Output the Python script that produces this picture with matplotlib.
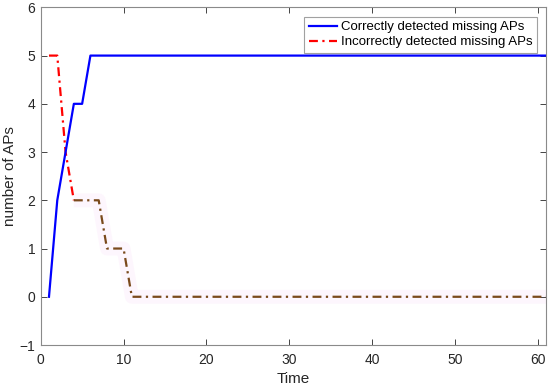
import matplotlib
matplotlib.use("Agg")
import matplotlib.pyplot as plt
import numpy as np

time = list(range(1, 62))
correct = [0, 2, 3, 4, 4] + [5] * 56
incorrect = [5, 5, 3, 2, 2, 2, 2, 1, 1, 1] + [0] * 51
x_ticks = [0, 10, 20, 30, 40, 50, 60]
y_ticks = [-1, 0, 1, 2, 3, 4, 5, 6]

plt.rcParams['font.family'] = ['Liberation Sans', 'DejaVu Sans']
fig = plt.figure(figsize=(5.5, 3.87), dpi=100)
ax = fig.add_axes([0.074, 0.1085, 0.919, 0.8725])

dash = (4, 2, 1, 2)
ax.plot(time, correct, color='#0000ff', lw=1.6, label='Correctly detected missing APs', zorder=4)
# red part of dash-dot curve (legend entry)
ax.plot(time[:4], incorrect[:4], color='#ff0000', lw=1.6, dashes=dash, zorder=3,
        label='Incorrectly detected missing APs')
# brownish appearance on later part of the dash-dot curve, with faint pink haze
ax.plot(time[3:], incorrect[3:], color='#fbe6fa', lw=10, alpha=0.35, zorder=1, solid_capstyle='butt')
ax.plot(time[3:], incorrect[3:], color='#7a4a1c', lw=1.6, dashes=dash, zorder=3)

ax.set_xlim(0, 61)
ax.set_ylim(-1, 6)
ax.set_xticks(x_ticks)
ax.set_yticks(y_ticks)
ax.tick_params(axis='x', pad=6)
ax.tick_params(axis='y', pad=4)
ax.tick_params(direction='in', top=True, right=True, labelsize=10, colors='#262626',
               length=4, width=0.6)
for s in ax.spines.values():
    s.set_color('#8a8a8a')
    s.set_linewidth(0.8)
ax.set_xlabel('Time', fontsize=11, color='#262626', labelpad=3)
ax.set_ylabel('number of APs', fontsize=11, color='#262626', labelpad=2)

leg = ax.legend(loc='upper right', fontsize=9.5, frameon=True, fancybox=False,
                borderaxespad=0.7, handlelength=2.1, handletextpad=0.3,
                borderpad=0.35, labelspacing=0.2)
leg.get_frame().set_edgecolor('#8a8a8a')
leg.get_frame().set_linewidth(0.8)

fig.savefig('out.png', dpi=100)
